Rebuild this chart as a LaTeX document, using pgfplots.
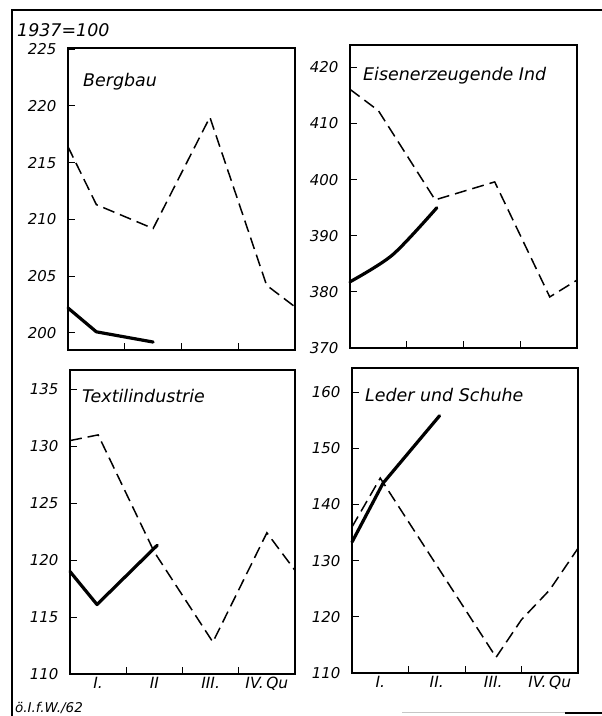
\documentclass[border=0pt]{standalone}
\usepackage{fontspec}
\setmainfont{DejaVu Sans}
\usepackage{pgfplots}
\pgfplotsset{compat=1.18}

\pgfplotsset{
  panel/.style={
    scale only axis, anchor=south west,
    xmin=0, xmax=4,
    xtick={1,2,3}, xticklabels={},
    ytick pos=left, xtick pos=bottom,
    tick align=inside,
    major tick length=7bp,
    axis line style={line width=1.2bp},
    every tick/.style={black, line width=1bp},
    /pgf/number format/assume math mode=true,
    yticklabel style={font=\itshape\fontsize{15}{15}\selectfont, xshift=-8bp},
    xticklabel style={font=\itshape\fontsize{15.5}{15.5}\selectfont},
    clip=false,
  },
  quarters/.style={
    extra x ticks={0.5,1.5,2.5,3.5},
    extra x tick labels={#1},
    extra x tick style={major tick length=0pt},
  },
  prev/.style={black, line width=1.5bp, dash pattern=on 12bp off 6bp},
  curr/.style={black, line width=3.2bp, line cap=round, line join=round},
}

\begin{document}
\begin{tikzpicture}
\path[use as bounding box] (0,0) rectangle (602bp,716bp);

% Bergbau
\begin{axis}[panel, at={(68bp,366bp)}, width=227bp, height=302bp,
  ymin=198.5, ymax=225.1, ytick={200,205,...,225}]
\addplot[prev] coordinates {(0,216.4) (0.5,211.3) (1.5,209.2) (2.5,219.0) (3.5,204.2) (4,202.3)};
\addplot[curr] coordinates {(0,202.2) (0.5,200.1) (1.5,199.2)};
\end{axis}

% Eisenerzeugende Industrie
\begin{axis}[panel, at={(350bp,368bp)}, width=227bp, height=303bp,
  ymin=370, ymax=424, ytick={370,380,...,420}]
\addplot[prev] coordinates {(0,416.1) (0.5,412.3) (1.5,396.4) (2.55,399.6) (3.52,379.1) (4,382.1)};
\addplot[curr, smooth] coordinates {(0,381.8) (0.75,386.6) (1.53,395.0)};
\end{axis}

% Textilindustrie
\begin{axis}[panel, quarters={I.,II,III.,IV.\,Qu}, at={(70bp,42bp)}, width=225bp, height=304bp,
  ymin=110, ymax=136.7, ytick={110,115,...,135}]
\addplot[prev] coordinates {(0,130.5) (0.5,131.0) (1.5,120.7) (2.54,112.8) (3.5,122.4) (4,119.1)};
\addplot[curr] coordinates {(0,119.0) (0.48,116.1) (1.55,121.3)};
\end{axis}

% Leder und Schuhe
\begin{axis}[panel, quarters={I.,II.,III.,IV.\,Qu}, at={(352bp,43bp)}, width=226bp, height=305bp,
  ymin=110, ymax=164.3, ytick={110,120,...,160}]
\addplot[prev] coordinates {(0,136.0) (0.5,144.7) (2.55,112.8) (3.0,119.5) (3.5,124.8) (4,132.2)};
\addplot[curr] coordinates {(0,133.3) (0.55,143.8) (1.55,155.8)};
\end{axis}

% frame and texts
\draw[line width=2.5bp] (12bp,0) -- (12bp,706bp) -- (602bp,706bp);
\draw[gray!45, line width=1bp] (402bp,3bp) -- (565bp,3bp);
\draw[line width=1.5bp] (565bp,3bp) -- (602bp,3bp);

\begin{scope}[every node/.style={inner sep=0pt, anchor=base west}]
\node[font=\itshape\fontsize{17.5}{17.5}\selectfont] at (17bp,679bp) {1937=100};
\node[font=\itshape\fontsize{13.5}{13.5}\selectfont] at (15bp,4bp) {ö.I.f.W./62};
\node[font=\itshape\fontsize{17.5}{17.5}\selectfont] at (83bp,629bp) {Bergbau};
\node[font=\itshape\fontsize{17.5}{17.5}\selectfont] at (363bp,635bp) {Eisenerzeugende Ind};
\node[font=\itshape\fontsize{17.5}{17.5}\selectfont] at (82bp,313bp) {Textilindustrie};
\node[font=\itshape\fontsize{17.5}{17.5}\selectfont] at (365bp,314bp) {Leder und Schuhe};
\end{scope}
\end{tikzpicture}
\end{document}
